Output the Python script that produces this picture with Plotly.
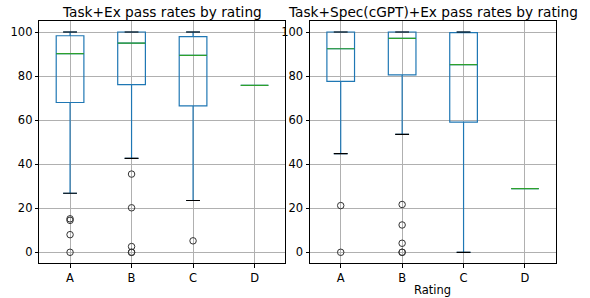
import plotly.graph_objects as go

categories = ["A", "B", "C", "D"]
positions = [1, 2, 3, 4]

# Panel 1: Task+Ex
p1_q1 = [68.0, 76.1, 66.5, 75.8]
p1_med = [90.2, 95.0, 89.4, 75.8]
p1_q3 = [98.3, 100.0, 97.9, 75.8]
p1_lo = [26.8, 42.6, 23.5, 75.8]
p1_hi = [100.0, 100.0, 100.0, 75.8]
p1_out = [[15.2, 14.5, 8.0, 0.0], [35.5, 20.2, 2.6, 0.0, 0.0], [5.2], []]

# Panel 2: Task+Spec(cGPT)+Ex
p2_q1 = [77.6, 80.5, 59.1, 28.9]
p2_med = [92.4, 97.1, 85.2, 28.9]
p2_q3 = [100.0, 100.0, 99.7, 28.9]
p2_lo = [44.8, 53.5, 0.0, 28.9]
p2_hi = [100.0, 100.0, 100.0, 28.9]
p2_out = [[21.2, 0.0], [21.7, 12.4, 4.1, 0.0, 0.0], [], []]

titles = ["Task+Ex pass rates by rating", "Task+Spec(cGPT)+Ex pass rates by rating"]
xlabel = "Rating"

BOX_W = 0.45
CAP_W = 0.225
BLUE = "#1f77b4"
GREEN = "#2ca02c"

fig = go.Figure()

panels = [
    (p1_q1, p1_med, p1_q3, p1_lo, p1_hi, p1_out, "x", "y"),
    (p2_q1, p2_med, p2_q3, p2_lo, p2_hi, p2_out, "x2", "y2"),
]

for q1, med, q3, lo, hi, outs, xa, ya in panels:
    fig.add_trace(go.Box(
        x=positions, q1=q1, median=med, q3=q3, lowerfence=lo, upperfence=hi,
        width=BOX_W, whiskerwidth=0.5, line=dict(color=BLUE, width=1.2),
        fillcolor="rgba(0,0,0,0)", boxpoints=False, showlegend=False,
        xaxis=xa, yaxis=ya, hoverinfo="skip",
    ))
    # medians (green)
    mx, my = [], []
    for p, m in zip(positions, med):
        mx += [p - BOX_W / 2, p + BOX_W / 2, None]
        my += [m, m, None]
    fig.add_trace(go.Scatter(x=mx, y=my, mode="lines", line=dict(color=GREEN, width=1.2),
                             showlegend=False, xaxis=xa, yaxis=ya, hoverinfo="skip"))
    # caps (black)
    cx, cy = [], []
    for p, l, h in zip(positions, lo, hi):
        if l == h:
            continue
        cx += [p - CAP_W / 2, p + CAP_W / 2, None, p - CAP_W / 2, p + CAP_W / 2, None]
        cy += [l, l, None, h, h, None]
    fig.add_trace(go.Scatter(x=cx, y=cy, mode="lines", line=dict(color="black", width=1.2),
                             showlegend=False, xaxis=xa, yaxis=ya, hoverinfo="skip"))
    # outliers
    ox, oy = [], []
    for p, vals in zip(positions, outs):
        ox += [p] * len(vals)
        oy += vals
    fig.add_trace(go.Scatter(x=ox, y=oy, mode="markers",
                             marker=dict(symbol="circle-open", size=6.5, color="#333",
                                         line=dict(width=1)),
                             showlegend=False, xaxis=xa, yaxis=ya, hoverinfo="skip"))

W, H = 590, 298
font = dict(family="DejaVu Sans", size=11.5, color="black")
axis_common = dict(
    showline=True, linecolor="black", linewidth=1, mirror=True,
    showgrid=True, gridcolor="#b0b0b0", gridwidth=1,
    ticks="outside", ticklen=3.5, tickcolor="black", tickwidth=1,
    zeroline=False, tickfont=font,
)
ydom = [(H - 263.3) / H, (H - 21) / H]

fig.update_layout(
    width=W, height=H, margin=dict(l=0, r=0, t=0, b=0),
    paper_bgcolor="white", plot_bgcolor="white", font=font,
    xaxis=dict(domain=[39.3 / W, 285.3 / W], range=[0.5, 4.5],
               tickvals=positions, ticktext=categories, **axis_common),
    xaxis2=dict(domain=[310 / W, 555.7 / W], range=[0.5, 4.5],
                tickvals=positions, ticktext=categories, anchor="y2", **axis_common),
    yaxis=dict(domain=ydom, range=[-5, 105], tickvals=[0, 20, 40, 60, 80, 100], **axis_common),
    yaxis2=dict(domain=ydom, range=[-5, 105], tickvals=[0, 20, 40, 60, 80, 100],
                anchor="x2", **axis_common),
    annotations=[
        dict(text=titles[0], x=(39.3 + 285.3) / 2 / W, y=1 - 11.5 / H, xref="paper", yref="paper",
             xanchor="center", yanchor="middle", showarrow=False,
             font=dict(family="DejaVu Sans", size=13.7, color="black")),
        dict(text=titles[1], x=(310 + 555.7) / 2 / W, y=1 - 11.5 / H, xref="paper", yref="paper",
             xanchor="center", yanchor="middle", showarrow=False,
             font=dict(family="DejaVu Sans", size=13.7, color="black")),
        dict(text=xlabel, x=(310 + 555.7) / 2 / W, y=(H - 289.5) / H, xref="paper", yref="paper",
             xanchor="center", yanchor="middle", showarrow=False,
             font=dict(family="DejaVu Sans", size=11.5, color="black")),
    ],
)

fig.write_html("out.html", config={"displayModeBar": False},
               post_script="document.body.style.margin='0';document.body.style.padding='0';")
